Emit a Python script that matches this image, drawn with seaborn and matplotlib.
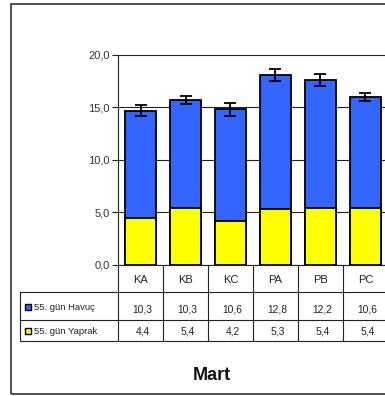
import numpy as np
import matplotlib
matplotlib.use("Agg")
import matplotlib.pyplot as plt
import matplotlib.transforms as mtransforms
from matplotlib.lines import Line2D
from matplotlib.patches import Rectangle
from matplotlib.ticker import FuncFormatter
import seaborn as sns

# data
categories = ["KA", "KB", "KC", "PA", "PB", "PC"]
havuc = [10.3, 10.3, 10.6, 12.8, 12.2, 10.6]   # 55. gün Havuç (top, blue)
yaprak = [4.4, 5.4, 4.2, 5.3, 5.4, 5.4]         # 55. gün Yaprak (bottom, yellow)
hata = [0.5, 0.35, 0.6, 0.55, 0.55, 0.35]       # error on the total
series_names = ["55. gün Havuç", "55. gün Yaprak"]
title = "Mart"

BLUE = "#3366FF"
YELLOW = "#FFFF00"

sns.set_style("white")
plt.rcParams["font.family"] = ["Liberation Sans", "DejaVu Sans"]

W, H = 385, 396
fig = plt.figure(figsize=(W / 100, H / 100), dpi=100)

def fx(x):
    return x / W

def fy(y):
    return 1 - y / H

ax = fig.add_axes([fx(118), fy(264.5), 270 / W, (264.5 - 55) / H])

totals = np.array(havuc) + np.array(yaprak)
sns.barplot(x=categories, y=totals, color=BLUE, saturation=1, width=0.69,
            edgecolor="black", linewidth=1.3, ax=ax, zorder=2)
sns.barplot(x=categories, y=yaprak, color=YELLOW, saturation=1, width=0.69,
            edgecolor="black", linewidth=1.3, ax=ax, zorder=3)
ax.errorbar(np.arange(len(categories)), totals, yerr=hata, fmt="none",
            ecolor="black", elinewidth=1.3, capsize=4.5, capthick=1.3, zorder=4)

ax.set_ylim(0, 20)
ax.set_xlim(-0.5, len(categories) - 0.5)
ax.set_yticks([0, 5, 10, 15, 20])
ax.yaxis.set_major_formatter(FuncFormatter(lambda v, p: f"{v:.1f}".replace(".", ",")))
ax.yaxis.grid(True, color="#222222", linewidth=0.8)
ax.set_axisbelow(True)
ax.tick_params(axis="y", labelsize=8, labelcolor="#333333", length=4,
               direction="out", color="#222222", width=0.8, left=True, pad=2)
ax.tick_params(axis="x", length=0, labelbottom=False)
ax.set_xlabel("")
ax.set_ylabel("")
for s in ["top", "right"]:
    ax.spines[s].set_visible(False)
for s in ["left", "bottom"]:
    ax.spines[s].set_color("#222222")
    ax.spines[s].set_linewidth(0.8)

# data table under the axis
trans = mtransforms.blended_transform_factory(ax.transData, fig.transFigure)
lc = "#222222"
for i in range(len(categories) + 1):
    fig.add_artist(Line2D([i - 0.5, i - 0.5], [fy(264.5), fy(341)], transform=trans,
                          color=lc, lw=0.8))
for y in [292, 320, 341]:
    fig.add_artist(Line2D([fx(20), 1.02], [fy(y), fy(y)], transform=fig.transFigure,
                          color=lc, lw=0.8))
fig.add_artist(Line2D([fx(20), fx(20)], [fy(292), fy(341)], transform=fig.transFigure,
                      color=lc, lw=0.8))

for i, c in enumerate(categories):
    fig.text(i, fy(280), c, transform=trans, ha="center", va="center",
             fontsize=8, color="#222222")
    fig.text(i + 0.05, fy(309), f"{havuc[i]:.1f}".replace(".", ","), transform=trans,
             ha="center", va="center", fontsize=7.4, color="#222222")
    fig.text(i + 0.05, fy(332), f"{yaprak[i]:.1f}".replace(".", ","), transform=trans,
             ha="center", va="center", fontsize=7.4, color="#222222")

for name, col, yc in zip(series_names, [BLUE, YELLOW], [307, 331]):
    fig.add_artist(Rectangle((fx(25), fy(yc + 3)), 6 / W, 6 / H,
                             transform=fig.transFigure, facecolor=col,
                             edgecolor="black", lw=1))
    fig.text(fx(33.5), fy(yc + 1), name, ha="left", va="center", fontsize=6.8,
             color="#222222")

fig.text(fx(212), fy(375), title, ha="center", va="center", fontsize=13,
         fontweight="bold", color="#111111")

# outer chart border
fig.add_artist(Rectangle((fx(11), fy(394)), (400 - 11) / W, (394 - 4) / H,
                         transform=fig.transFigure, fill=False,
                         edgecolor="#333333", lw=1.2))

fig.savefig("out.png", dpi=100)
